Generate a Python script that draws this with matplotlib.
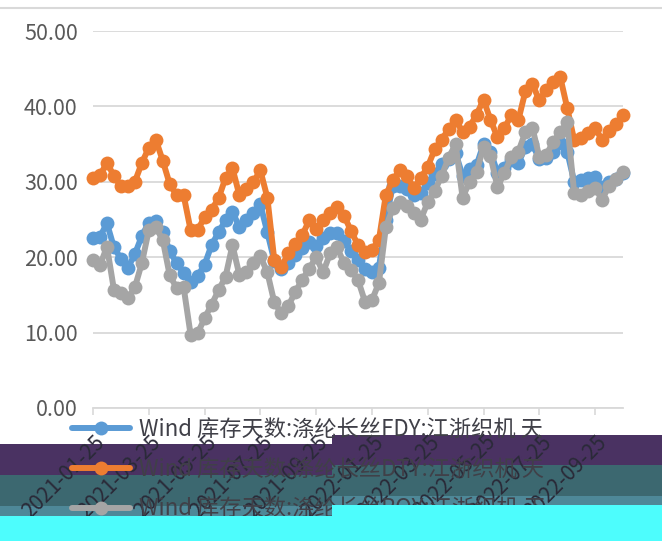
import matplotlib
matplotlib.use("Agg")
import matplotlib.pyplot as plt
import matplotlib.transforms as mtransforms
from matplotlib.patches import Polygon
from matplotlib.lines import Line2D
import numpy as np

plt.rcParams['font.family'] = ['Noto Sans CJK SC', 'DejaVu Sans']

# ---------------- data ----------------
series_names = [
    "Wind 库存天数:涤纶长丝FDY:江浙织机 天",
    "Wind 库存天数:涤纶长丝DTY:江浙织机 天",
    "Wind 库存天数:涤纶长丝POY:江浙织机 天",
]

fdy = [22.6, 22.7, 24.5, 21.3, 19.8, 18.6, 20.4, 22.8, 24.6, 24.8,
       23.4, 20.8, 19.2, 17.9, 16.7, 17.5, 19.0, 21.6, 23.3, 24.9,
       26.0, 24.0, 24.9, 25.9, 27.0, 23.3, 19.5, 18.4, 19.2, 20.3,
       21.2, 22.0, 21.5, 22.5, 23.2, 23.2, 22.2, 20.8, 19.6, 18.5,
       18.0, 18.6, 25.0, 29.5, 29.4, 29.0, 28.2, 28.5, 29.8, 31.0,
       32.3, 33.0, 33.8, 30.8, 31.7, 32.2, 35.0, 34.0, 31.2, 31.8,
       32.9, 32.5, 34.6, 35.0, 33.0, 33.2, 34.0, 35.2, 34.0, 30.0,
       30.2, 30.5, 30.6, 29.3, 30.0, 30.4, 31.2]

dty = [30.5, 30.9, 32.5, 30.8, 29.4, 29.4, 30.0, 32.5, 34.5, 35.6,
       32.8, 29.7, 28.2, 28.2, 23.6, 23.6, 25.3, 26.3, 27.8, 30.5,
       31.8, 28.2, 29.0, 30.0, 31.5, 27.9, 19.6, 18.7, 20.5, 21.8,
       22.9, 24.9, 23.8, 24.9, 25.9, 26.6, 25.5, 23.5, 21.6, 20.7,
       21.0, 22.3, 28.3, 30.2, 31.6, 30.8, 29.2, 30.5, 32.0, 34.3,
       35.6, 37.0, 38.2, 36.6, 37.3, 38.9, 40.9, 38.2, 35.9, 37.1,
       38.9, 38.2, 42.0, 43.0, 40.8, 42.2, 43.3, 43.9, 39.8, 35.5,
       35.8, 36.5, 37.2, 35.5, 36.8, 37.6, 38.9]

poy = [19.6, 18.9, 21.4, 15.7, 15.2, 14.6, 16.0, 19.2, 23.6, 24.0,
       22.3, 17.6, 15.9, 16.0, 9.7, 9.9, 11.9, 13.7, 15.6, 17.4,
       21.6, 17.6, 18.0, 19.2, 20.1, 18.0, 14.0, 12.6, 13.5, 15.4,
       17.0, 18.5, 20.0, 18.0, 20.5, 21.3, 19.2, 18.3, 17.0, 14.1,
       14.3, 16.6, 24.0, 26.5, 27.3, 26.8, 25.8, 25.0, 27.3, 28.8,
       30.8, 33.2, 35.0, 27.9, 30.0, 31.3, 34.6, 33.4, 29.3, 31.2,
       33.3, 34.0, 36.6, 37.2, 33.3, 33.6, 35.3, 36.6, 37.9, 28.5,
       28.2, 28.8, 29.2, 27.6, 29.5, 30.4, 31.3]

tick_labels = ["2021-01-25", "2021-03-25", "2021-05-25", "2021-07-25", "2021-09-25",
               "2022-01-25", "2022-03-25", "2022-05-25", "2022-07-25", "2022-09-25"]
label_every = 8

colors = ["#5B9BD5", "#ED7D31", "#A5A5A5"]

# ---------------- figure ----------------
W, H = 662, 541
fig = plt.figure(figsize=(W / 100, H / 100), dpi=100)
fig.patch.set_facecolor("white")

def fx(px):
    return px / W

def fy(py):
    return 1 - py / H

ax = fig.add_axes([fx(93), fy(408), fx(623) - fx(93), fy(31) - fy(408)])
ax.set_facecolor("none")

x = np.arange(len(fdy))
lines = []
for vals, c, name in zip([fdy, dty, poy], colors, series_names):
    ln, = ax.plot(x, vals, color=c, lw=4.3, marker="o", ms=10.0,
                  markeredgewidth=0, label=name, solid_joinstyle="round",
                  solid_capstyle="round", clip_on=False)
    lines.append(ln)

ax.set_xlim(0, len(fdy) - 1)
ax.set_ylim(0, 50)
ax.set_yticks(np.arange(0, 51, 10))
ax.yaxis.set_major_formatter(matplotlib.ticker.FormatStrFormatter("%.2f"))
ax.grid(axis="y", color="#D9D9D9", lw=1.3)
ax.set_axisbelow(True)
for s in ["top", "right", "left"]:
    ax.spines[s].set_visible(False)
ax.spines["bottom"].set_color("#D9D9D9")
ax.spines["bottom"].set_linewidth(1.3)
ax.tick_params(axis="y", length=0, pad=11, labelsize=15.5, labelcolor="#595959")
ax.tick_params(axis="x", direction="out", length=5, width=1.2, color="#D9D9D9",
               pad=0, labelsize=15, labelcolor="#2A2A38")

ticks = np.arange(0, len(fdy), label_every)[:len(tick_labels)]
ax.set_xticks(ticks)
ax.set_xticklabels(tick_labels)
offset = mtransforms.ScaledTranslation(1 / 100, -16 / 100, fig.dpi_scale_trans)
for lab in ax.get_xticklabels():
    lab.set_rotation(45)
    lab.set_rotation_mode("anchor")
    lab.set_ha("right")
    lab.set_va("top")
    lab.set_transform(lab.get_transform() + offset)

# legend
leg = ax.legend(handles=lines, loc="upper left",
                bbox_to_anchor=(fx(72), fy(418)), bbox_transform=fig.transFigure,
                frameon=False, fontsize=16, handlelength=2.6, handletextpad=0.4,
                labelspacing=0.75, borderpad=0, borderaxespad=0, markerscale=1.0)
for t in leg.get_texts():
    t.set_color("#404048")

# top border line
fig.add_artist(Line2D([0, 1], [fy(8), fy(8)], transform=fig.transFigure,
                      color="#D9D9D9", lw=1.5))

# bottom colour bands (as in reference): left and right halves offset
def band(xl, xr, y0, y1, color, z):
    pts = [(fx(xl), fy(y0)), (fx(xr), fy(y0)), (fx(xr), fy(y1)), (fx(xl), fy(y1))]
    p = Polygon(pts, closed=True, transform=fig.transFigure, facecolor=color,
                edgecolor="none", zorder=z)
    fig.add_artist(p)

split = 332
for (xl, xr, b) in [(0, split, (444, 475, 506, 516)), (split, W, (435, 465, 496, 505))]:
    band(xl, xr, b[0], b[1], "#4A3262", -5)
    band(xl, xr, b[1], b[2], "#3C6870", -5)
    band(xl, xr, b[2], b[3], "#4E8898", -5)
    band(xl, xr, b[3], H + 1, "#4DFDFD", 20)

fig.savefig("out.png", dpi=100)
